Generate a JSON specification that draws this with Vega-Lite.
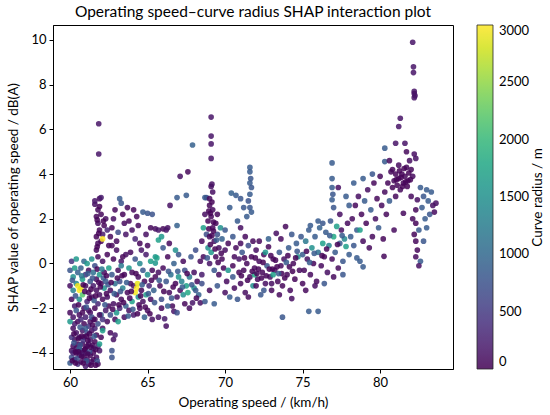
{
"$schema": "https://vega.github.io/schema/vega-lite/v6.json",
"width": 400, "height": 344,
"autosize": {"type": "none"},
"padding": {"left": 53, "top": 25, "right": 97, "bottom": 46},
"title": {"text": "Operating speed–curve radius SHAP interaction plot", "fontSize": 15.5, "font": "Lato", "fontWeight": "normal", "color": "black", "anchor": "middle", "offset": 5},
"data": {"values": [
{"speed":60.0,"shap":-4.45,"radius":850},{"speed":60.1,"shap":-4.2,"radius":700},{"speed":60.1,"shap":-3.9,"radius":120},{"speed":60.2,"shap":-3.7,"radius":80},{"speed":60.2,"shap":-4.0,"radius":300},{"speed":60.3,"shap":-4.3,"radius":200},{"speed":60.3,"shap":-3.4,"radius":60},{"speed":60.4,"shap":-3.1,"radius":150},{"speed":60.4,"shap":-3.8,"radius":90},{"speed":60.5,"shap":-4.5,"radius":400},{"speed":60.5,"shap":-3.6,"radius":40},{"speed":60.6,"shap":-4.1,"radius":110},{"speed":60.6,"shap":-3.3,"radius":250},{"speed":60.7,"shap":-3.9,"radius":60},{"speed":60.7,"shap":-4.4,"radius":90},{"speed":60.8,"shap":-3.0,"radius":180},{"speed":60.8,"shap":-3.6,"radius":70},{"speed":60.9,"shap":-4.2,"radius":30},{"speed":60.9,"shap":-3.3,"radius":300},{"speed":61.0,"shap":-4.6,"radius":200},{"speed":61.0,"shap":-3.8,"radius":50},{"speed":61.0,"shap":-4.0,"radius":120},{"speed":61.1,"shap":-3.1,"radius":700},{"speed":61.1,"shap":-4.3,"radius":80},{"speed":61.2,"shap":-3.6,"radius":100},{"speed":61.2,"shap":-2.8,"radius":400},{"speed":61.3,"shap":-4.1,"radius":60},{"speed":61.3,"shap":-3.4,"radius":200},{"speed":61.4,"shap":-4.4,"radius":150},{"speed":61.4,"shap":-3.0,"radius":90},{"speed":61.5,"shap":-3.8,"radius":750},{"speed":61.5,"shap":-4.0,"radius":70},{"speed":61.6,"shap":-3.5,"radius":40},{"speed":61.6,"shap":-2.9,"radius":300},{"speed":61.7,"shap":-4.2,"radius":100},{"speed":61.7,"shap":-3.2,"radius":60},{"speed":61.8,"shap":-3.7,"radius":250},{"speed":61.8,"shap":-4.5,"radius":80},{"speed":60.2,"shap":-2.9,"radius":100},{"speed":60.3,"shap":-2.7,"radius":220},{"speed":60.0,"shap":-2.6,"radius":1600},{"speed":60.5,"shap":-2.6,"radius":80},{"speed":60.7,"shap":-2.5,"radius":350},{"speed":60.9,"shap":-2.7,"radius":60},{"speed":61.0,"shap":-2.9,"radius":850},{"speed":61.3,"shap":-2.6,"radius":110},{"speed":61.5,"shap":-2.5,"radius":40},{"speed":61.8,"shap":-2.7,"radius":700},{"speed":60.1,"shap":-3.3,"radius":450},{"speed":60.4,"shap":-4.0,"radius":60},{"speed":60.6,"shap":-3.8,"radius":900},{"speed":60.8,"shap":-4.0,"radius":150},{"speed":61.1,"shap":-3.7,"radius":40},{"speed":61.2,"shap":-4.5,"radius":300},{"speed":61.5,"shap":-4.3,"radius":60},{"speed":61.9,"shap":-3.9,"radius":150},{"speed":62.0,"shap":-3.3,"radius":60},{"speed":62.1,"shap":-2.9,"radius":100},{"speed":62.7,"shap":-3.9,"radius":750},{"speed":62.7,"shap":-4.2,"radius":750},{"speed":62.8,"shap":-3.4,"radius":120},{"speed":62.6,"shap":-3.1,"radius":80},{"speed":62.9,"shap":-3.2,"radius":200},{"speed":62.1,"shap":-3.0,"radius":1700},{"speed":61.9,"shap":-3.6,"radius":1650},
{"speed":60.15,"shap":-4.35,"radius":20},{"speed":60.25,"shap":-3.55,"radius":800},{"speed":60.35,"shap":-3.95,"radius":30},{"speed":60.45,"shap":-4.25,"radius":700},{"speed":60.55,"shap":-3.35,"radius":20},{"speed":60.65,"shap":-3.65,"radius":750},{"speed":60.75,"shap":-4.15,"radius":40},{"speed":60.85,"shap":-3.45,"radius":450},{"speed":60.95,"shap":-3.85,"radius":20},{"speed":61.05,"shap":-4.35,"radius":800},{"speed":61.15,"shap":-3.45,"radius":30},{"speed":61.25,"shap":-3.95,"radius":700},{"speed":61.35,"shap":-4.55,"radius":20},{"speed":61.45,"shap":-3.65,"radius":60},{"speed":61.55,"shap":-3.25,"radius":850},{"speed":61.65,"shap":-3.85,"radius":20},{"speed":61.75,"shap":-4.35,"radius":700},{"speed":60.25,"shap":-3.15,"radius":30},{"speed":60.65,"shap":-2.85,"radius":800},{"speed":61.05,"shap":-3.25,"radius":20},{"speed":61.45,"shap":-2.75,"radius":30},{"speed":60.35,"shap":-4.45,"radius":20},{"speed":60.55,"shap":-3.95,"radius":30},{"speed":60.85,"shap":-4.45,"radius":20},{"speed":61.15,"shap":-4.05,"radius":40},{"speed":61.35,"shap":-3.75,"radius":20},{"speed":61.65,"shap":-4.55,"radius":30},{"speed":60.75,"shap":-3.25,"radius":20},{"speed":61.25,"shap":-3.15,"radius":20},
{"speed":60.0,"shap":-0.3,"radius":800},{"speed":60.1,"shap":0.1,"radius":450},{"speed":60.0,"shap":-1.0,"radius":100},{"speed":60.1,"shap":-1.6,"radius":50},{"speed":60.2,"shap":-0.6,"radius":1500},{"speed":60.2,"shap":-1.2,"radius":1300},{"speed":60.3,"shap":-0.2,"radius":1700},{"speed":60.3,"shap":-1.9,"radius":200},{"speed":60.4,"shap":0.2,"radius":1600},{"speed":60.4,"shap":-0.9,"radius":1400},{"speed":60.5,"shap":-1.0,"radius":2950},{"speed":60.5,"shap":-0.4,"radius":900},{"speed":60.6,"shap":-1.2,"radius":3000},{"speed":60.6,"shap":-1.6,"radius":1500},{"speed":60.7,"shap":-1.1,"radius":2900},{"speed":60.7,"shap":-0.2,"radius":900},{"speed":60.8,"shap":-0.7,"radius":1700},{"speed":60.8,"shap":-1.4,"radius":2200},{"speed":60.9,"shap":0.1,"radius":1000},{"speed":60.9,"shap":-2.0,"radius":100},{"speed":61.0,"shap":-0.5,"radius":400},{"speed":61.0,"shap":-1.0,"radius":60},{"speed":61.1,"shap":-1.7,"radius":300},{"speed":61.1,"shap":0.0,"radius":1600},{"speed":61.2,"shap":-0.3,"radius":80},{"speed":61.2,"shap":-1.3,"radius":50},{"speed":61.3,"shap":-2.2,"radius":150},{"speed":61.3,"shap":-0.8,"radius":800},{"speed":61.4,"shap":0.2,"radius":1500},{"speed":61.4,"shap":-1.5,"radius":70},{"speed":61.5,"shap":-1.0,"radius":200},{"speed":61.5,"shap":-0.4,"radius":1100},{"speed":61.6,"shap":-2.0,"radius":40},{"speed":61.6,"shap":-0.1,"radius":700},{"speed":61.7,"shap":-1.2,"radius":100},{"speed":61.7,"shap":-0.7,"radius":80},{"speed":61.8,"shap":-1.8,"radius":300},{"speed":61.8,"shap":0.3,"radius":60},{"speed":61.9,"shap":-0.5,"radius":1600},{"speed":61.9,"shap":-1.4,"radius":100},{"speed":62.0,"shap":-2.3,"radius":900},{"speed":62.0,"shap":-0.9,"radius":40},{"speed":62.1,"shap":0.1,"radius":120},{"speed":62.1,"shap":-1.6,"radius":60},{"speed":62.2,"shap":-1.1,"radius":1500},{"speed":62.2,"shap":-0.4,"radius":80},{"speed":62.3,"shap":-2.1,"radius":200},{"speed":62.3,"shap":-0.8,"radius":800},{"speed":62.4,"shap":0.4,"radius":50},{"speed":62.4,"shap":-1.5,"radius":100},{"speed":62.5,"shap":-1.9,"radius":60},{"speed":62.5,"shap":-0.2,"radius":1700},{"speed":60.0,"shap":-2.2,"radius":80},{"speed":60.2,"shap":-2.4,"radius":150},{"speed":60.4,"shap":-2.1,"radius":800},{"speed":60.6,"shap":-2.3,"radius":90},{"speed":60.8,"shap":-2.2,"radius":50},{"speed":61.0,"shap":-2.4,"radius":250},{"speed":61.2,"shap":-2.1,"radius":100},{"speed":61.4,"shap":-2.4,"radius":700},{"speed":61.6,"shap":-2.5,"radius":60},{"speed":61.9,"shap":-2.3,"radius":100},{"speed":62.1,"shap":-2.5,"radius":450},{"speed":62.4,"shap":-2.6,"radius":80},
{"speed":60.15,"shap":-0.75,"radius":800},{"speed":60.35,"shap":-1.45,"radius":750},{"speed":60.55,"shap":-1.85,"radius":20},{"speed":60.75,"shap":-0.55,"radius":1200},{"speed":60.95,"shap":-1.25,"radius":30},{"speed":61.15,"shap":-0.45,"radius":850},{"speed":61.35,"shap":-1.15,"radius":20},{"speed":61.55,"shap":-1.65,"radius":800},{"speed":61.75,"shap":-0.25,"radius":30},{"speed":61.95,"shap":-1.05,"radius":20},{"speed":62.15,"shap":-0.65,"radius":850},{"speed":62.35,"shap":-1.35,"radius":20},{"speed":62.45,"shap":-0.95,"radius":750},{"speed":61.05,"shap":-1.95,"radius":800},{"speed":61.65,"shap":-1.45,"radius":20},{"speed":62.25,"shap":-1.85,"radius":800},{"speed":60.85,"shap":-0.95,"radius":20},{"speed":61.45,"shap":-0.65,"radius":800},{"speed":62.05,"shap":-0.25,"radius":1200},{"speed":61.25,"shap":-1.55,"radius":20},{"speed":61.85,"shap":-0.85,"radius":30},{"speed":62.35,"shap":-0.55,"radius":20},
{"speed":61.7,"shap":0.6,"radius":50},{"speed":61.8,"shap":0.9,"radius":80},{"speed":61.7,"shap":1.2,"radius":30},{"speed":61.9,"shap":1.5,"radius":60},{"speed":61.8,"shap":1.8,"radius":100},{"speed":61.7,"shap":2.1,"radius":40},{"speed":61.8,"shap":2.4,"radius":70},{"speed":61.6,"shap":2.65,"radius":120},{"speed":61.9,"shap":2.9,"radius":80},{"speed":62.0,"shap":1.0,"radius":40},{"speed":62.1,"shap":1.3,"radius":200},{"speed":62.2,"shap":1.7,"radius":50},{"speed":62.3,"shap":2.0,"radius":100},{"speed":62.0,"shap":2.2,"radius":60},{"speed":62.4,"shap":1.5,"radius":300},{"speed":62.5,"shap":0.8,"radius":50},{"speed":62.1,"shap":1.1,"radius":3000},{"speed":61.85,"shap":6.25,"radius":150},{"speed":61.85,"shap":4.9,"radius":150},{"speed":61.6,"shap":2.8,"radius":150},{"speed":62.0,"shap":2.95,"radius":200},{"speed":61.75,"shap":0.75,"radius":20},{"speed":61.85,"shap":1.35,"radius":20},{"speed":61.75,"shap":1.95,"radius":30},{"speed":61.9,"shap":2.55,"radius":20},{"speed":62.15,"shap":1.9,"radius":20},
{"speed":62.6,"shap":-1.2,"radius":80},{"speed":62.7,"shap":-0.5,"radius":800},{"speed":62.8,"shap":-1.8,"radius":100},{"speed":62.8,"shap":0.2,"radius":40},{"speed":62.9,"shap":-0.9,"radius":1100},{"speed":63.0,"shap":-2.2,"radius":1600},{"speed":63.0,"shap":-1.4,"radius":50},{"speed":63.1,"shap":-0.3,"radius":70},{"speed":63.2,"shap":-2.0,"radius":300},{"speed":63.2,"shap":-0.8,"radius":700},{"speed":63.3,"shap":0.1,"radius":150},{"speed":63.3,"shap":-1.6,"radius":60},{"speed":63.4,"shap":-1.1,"radius":1300},{"speed":63.5,"shap":-2.4,"radius":90},{"speed":63.5,"shap":-0.5,"radius":40},{"speed":63.6,"shap":-1.9,"radius":900},{"speed":63.6,"shap":0.4,"radius":100},{"speed":63.7,"shap":-1.3,"radius":50},{"speed":63.8,"shap":-0.2,"radius":1600},{"speed":63.8,"shap":-2.1,"radius":100},{"speed":63.9,"shap":-0.9,"radius":80},{"speed":64.0,"shap":-1.7,"radius":1700},{"speed":64.0,"shap":-0.4,"radius":60},{"speed":64.1,"shap":-2.3,"radius":200},{"speed":64.1,"shap":-1.0,"radius":100},{"speed":64.2,"shap":0.2,"radius":750},{"speed":64.2,"shap":-1.3,"radius":2950},{"speed":64.3,"shap":-1.1,"radius":3000},{"speed":64.35,"shap":-0.9,"radius":2900},{"speed":64.4,"shap":-1.5,"radius":1500},{"speed":64.4,"shap":-0.6,"radius":80},{"speed":64.5,"shap":-2.0,"radius":60},{"speed":64.5,"shap":0.0,"radius":1400},{"speed":64.6,"shap":-1.2,"radius":40},{"speed":64.7,"shap":-0.3,"radius":800},{"speed":64.7,"shap":-1.7,"radius":100},{"speed":64.8,"shap":-2.4,"radius":900},{"speed":64.8,"shap":-0.8,"radius":50},{"speed":64.9,"shap":0.4,"radius":200},{"speed":64.9,"shap":-1.4,"radius":1700},{"speed":65.0,"shap":-0.5,"radius":1500},{"speed":65.0,"shap":-2.1,"radius":80},{"speed":65.1,"shap":-1.0,"radius":300},{"speed":65.2,"shap":0.1,"radius":1700},{"speed":65.2,"shap":-1.6,"radius":100},{"speed":65.3,"shap":-0.3,"radius":60},{"speed":65.3,"shap":-2.5,"radius":120},{"speed":65.4,"shap":-1.2,"radius":900},{"speed":65.5,"shap":-0.6,"radius":50},{"speed":65.5,"shap":0.3,"radius":1600},{"speed":62.6,"shap":-2.3,"radius":700},{"speed":62.9,"shap":-2.5,"radius":80},{"speed":63.1,"shap":-2.6,"radius":1700},{"speed":63.4,"shap":0.3,"radius":50},{"speed":63.9,"shap":0.5,"radius":80},{"speed":64.6,"shap":0.6,"radius":150},{"speed":65.0,"shap":0.8,"radius":60},{"speed":63.3,"shap":-0.1,"radius":1200},{"speed":63.0,"shap":0.6,"radius":90},{"speed":62.7,"shap":0.8,"radius":60},
{"speed":62.65,"shap":-0.85,"radius":20},{"speed":62.85,"shap":-1.35,"radius":850},{"speed":63.05,"shap":-0.65,"radius":20},{"speed":63.25,"shap":-1.25,"radius":800},{"speed":63.45,"shap":-1.75,"radius":20},{"speed":63.65,"shap":-0.85,"radius":850},{"speed":63.85,"shap":-1.55,"radius":30},{"speed":64.05,"shap":-2.05,"radius":800},{"speed":64.25,"shap":-0.45,"radius":20},{"speed":64.45,"shap":-1.85,"radius":30},{"speed":64.65,"shap":-0.95,"radius":850},{"speed":64.85,"shap":-1.95,"radius":20},{"speed":65.05,"shap":-1.35,"radius":800},{"speed":65.25,"shap":-0.75,"radius":20},{"speed":65.45,"shap":-1.75,"radius":750},{"speed":63.15,"shap":-1.85,"radius":20},{"speed":63.75,"shap":-2.35,"radius":850},{"speed":64.35,"shap":-2.25,"radius":20},{"speed":62.75,"shap":-2.05,"radius":30},{"speed":63.35,"shap":-0.55,"radius":20},{"speed":63.95,"shap":-1.25,"radius":20},{"speed":64.55,"shap":-1.45,"radius":20},{"speed":65.15,"shap":-2.25,"radius":30},
{"speed":62.6,"shap":1.2,"radius":60},{"speed":62.7,"shap":1.6,"radius":40},{"speed":62.8,"shap":2.0,"radius":100},{"speed":62.9,"shap":2.4,"radius":60},{"speed":63.0,"shap":1.0,"radius":80},{"speed":63.1,"shap":1.4,"radius":700},{"speed":63.2,"shap":2.9,"radius":850},{"speed":63.3,"shap":2.7,"radius":800},{"speed":63.4,"shap":2.2,"radius":40},{"speed":63.5,"shap":1.8,"radius":80},{"speed":63.6,"shap":1.3,"radius":150},{"speed":63.7,"shap":2.5,"radius":60},{"speed":63.8,"shap":1.9,"radius":50},{"speed":64.0,"shap":1.5,"radius":120},{"speed":64.1,"shap":2.4,"radius":50},{"speed":64.2,"shap":1.1,"radius":300},{"speed":64.3,"shap":2.1,"radius":60},{"speed":64.4,"shap":1.7,"radius":80},{"speed":64.5,"shap":0.9,"radius":40},{"speed":64.7,"shap":2.3,"radius":850},{"speed":65.0,"shap":2.25,"radius":800},{"speed":65.3,"shap":2.2,"radius":750},{"speed":64.9,"shap":1.3,"radius":100},{"speed":65.2,"shap":1.6,"radius":60},{"speed":65.5,"shap":1.55,"radius":90},{"speed":65.7,"shap":1.5,"radius":150},{"speed":66.0,"shap":1.55,"radius":60},{"speed":66.3,"shap":1.6,"radius":100},{"speed":66.9,"shap":1.7,"radius":900},{"speed":65.7,"shap":1.05,"radius":1700},{"speed":65.9,"shap":1.2,"radius":1600},{"speed":66.45,"shap":2.6,"radius":120},{"speed":66.9,"shap":2.95,"radius":850},{"speed":67.5,"shap":3.05,"radius":850},{"speed":66.2,"shap":1.5,"radius":150},
{"speed":65.6,"shap":0.25,"radius":1700},{"speed":65.5,"shap":0.02,"radius":1600},{"speed":65.7,"shap":-0.4,"radius":100},{"speed":65.8,"shap":-1.0,"radius":60},{"speed":65.9,"shap":-1.6,"radius":700},{"speed":66.0,"shap":-0.2,"radius":80},{"speed":66.1,"shap":-2.47,"radius":200},{"speed":65.7,"shap":-2.4,"radius":150},{"speed":66.2,"shap":-2.8,"radius":100},{"speed":66.2,"shap":-0.8,"radius":800},{"speed":66.3,"shap":0.3,"radius":50},{"speed":66.4,"shap":-1.3,"radius":80},{"speed":66.5,"shap":-0.5,"radius":1100},{"speed":66.6,"shap":-1.9,"radius":60},{"speed":66.7,"shap":-2.14,"radius":150},{"speed":66.9,"shap":-2.2,"radius":700},{"speed":66.7,"shap":0.0,"radius":900},{"speed":66.8,"shap":-0.9,"radius":40},{"speed":66.9,"shap":-1.5,"radius":100},{"speed":67.0,"shap":0.4,"radius":800},{"speed":67.0,"shap":-0.6,"radius":1600},{"speed":67.1,"shap":-1.2,"radius":70},{"speed":67.2,"shap":-0.8,"radius":1300},{"speed":67.3,"shap":-1.4,"radius":1500},{"speed":67.3,"shap":0.1,"radius":80},{"speed":67.4,"shap":-0.3,"radius":700},{"speed":67.5,"shap":-1.0,"radius":1700},{"speed":67.6,"shap":-1.3,"radius":1800},{"speed":67.7,"shap":-0.6,"radius":1200},{"speed":67.7,"shap":-2.0,"radius":80},{"speed":67.8,"shap":0.3,"radius":800},{"speed":67.9,"shap":-1.76,"radius":150},{"speed":68.0,"shap":-1.1,"radius":1600},{"speed":68.0,"shap":-0.4,"radius":100},{"speed":68.1,"shap":0.6,"radius":700},{"speed":68.2,"shap":-0.8,"radius":60},{"speed":68.3,"shap":-1.4,"radius":900},{"speed":68.4,"shap":-1.76,"radius":100},{"speed":68.4,"shap":0.1,"radius":80},{"speed":68.5,"shap":-0.5,"radius":200},{"speed":66.0,"shap":0.7,"radius":800},{"speed":66.4,"shap":0.9,"radius":80},{"speed":66.8,"shap":0.6,"radius":1500},{"speed":65.9,"shap":-2.0,"radius":60},{"speed":66.3,"shap":-1.9,"radius":900},{"speed":67.4,"shap":-1.8,"radius":50},
{"speed":65.75,"shap":-0.75,"radius":850},{"speed":66.05,"shap":-1.25,"radius":20},{"speed":66.35,"shap":-0.35,"radius":800},{"speed":66.65,"shap":-1.05,"radius":20},{"speed":66.95,"shap":-0.35,"radius":850},{"speed":67.25,"shap":-1.05,"radius":850},{"speed":67.55,"shap":-0.45,"radius":20},{"speed":67.85,"shap":-0.95,"radius":800},{"speed":68.15,"shap":-1.55,"radius":20},{"speed":66.55,"shap":-1.55,"radius":800},
{"speed":68.5,"shap":1.0,"radius":80},{"speed":68.6,"shap":1.6,"radius":1700},{"speed":68.7,"shap":2.95,"radius":850},{"speed":68.8,"shap":2.95,"radius":800},{"speed":68.6,"shap":0.3,"radius":60},{"speed":68.7,"shap":2.2,"radius":100},{"speed":68.8,"shap":1.3,"radius":700},{"speed":68.9,"shap":1.9,"radius":40},{"speed":68.9,"shap":0.7,"radius":1500},{"speed":69.0,"shap":2.6,"radius":50},{"speed":69.0,"shap":1.2,"radius":80},{"speed":69.0,"shap":0.0,"radius":150},{"speed":69.1,"shap":3.45,"radius":100},{"speed":69.15,"shap":3.55,"radius":120},{"speed":69.1,"shap":2.1,"radius":60},{"speed":69.1,"shap":0.5,"radius":1600},{"speed":69.2,"shap":1.6,"radius":40},{"speed":69.2,"shap":2.4,"radius":80},{"speed":69.3,"shap":1.0,"radius":100},{"speed":69.3,"shap":-0.3,"radius":800},{"speed":69.4,"shap":1.8,"radius":50},{"speed":69.4,"shap":0.3,"radius":40},{"speed":69.5,"shap":1.3,"radius":700},{"speed":69.5,"shap":2.2,"radius":60},{"speed":69.6,"shap":0.7,"radius":100},{"speed":69.6,"shap":-0.5,"radius":80},{"speed":69.7,"shap":1.6,"radius":1500},{"speed":69.8,"shap":0.2,"radius":60},{"speed":69.8,"shap":1.1,"radius":900},{"speed":69.9,"shap":-0.2,"radius":40},{"speed":70.0,"shap":0.6,"radius":100},{"speed":70.0,"shap":1.5,"radius":800},{"speed":70.1,"shap":-0.8,"radius":80},{"speed":70.2,"shap":0.9,"radius":50},{"speed":70.3,"shap":2.5,"radius":850},{"speed":70.4,"shap":3.15,"radius":900},{"speed":70.7,"shap":3.05,"radius":850},{"speed":71.0,"shap":2.9,"radius":800},{"speed":70.5,"shap":1.2,"radius":800},{"speed":70.6,"shap":0.3,"radius":80},{"speed":70.8,"shap":1.9,"radius":850},{"speed":70.9,"shap":-0.4,"radius":60},{"speed":69.1,"shap":6.55,"radius":150},{"speed":69.1,"shap":5.7,"radius":150},{"speed":69.1,"shap":5.35,"radius":150},{"speed":69.1,"shap":4.7,"radius":150},{"speed":69.2,"shap":3.2,"radius":100},{"speed":69.0,"shap":2.9,"radius":60},{"speed":67.9,"shap":5.3,"radius":900},{"speed":67.6,"shap":4.1,"radius":50},{"speed":67.1,"shap":3.9,"radius":120},{"speed":68.1,"shap":-1.2,"radius":800},{"speed":68.7,"shap":-1.7,"radius":800},{"speed":69.3,"shap":-1.8,"radius":850},{"speed":68.5,"shap":-0.9,"radius":700},{"speed":69.0,"shap":-1.2,"radius":80},{"speed":69.5,"shap":-1.0,"radius":800},{"speed":70.0,"shap":-1.3,"radius":100},{"speed":70.3,"shap":-1.5,"radius":850},{"speed":70.6,"shap":-1.1,"radius":80},{"speed":70.8,"shap":-1.6,"radius":800},
{"speed":68.95,"shap":1.55,"radius":20},{"speed":69.05,"shap":2.25,"radius":20},{"speed":69.15,"shap":1.25,"radius":30},{"speed":69.25,"shap":1.85,"radius":20},{"speed":69.35,"shap":0.65,"radius":20},{"speed":69.05,"shap":0.85,"radius":30},{"speed":69.45,"shap":1.05,"radius":850},{"speed":68.85,"shap":0.25,"radius":800},{"speed":69.55,"shap":0.05,"radius":20},{"speed":69.75,"shap":0.45,"radius":30},{"speed":69.15,"shap":2.75,"radius":20},{"speed":68.95,"shap":2.35,"radius":30},{"speed":69.25,"shap":1.45,"radius":20},
{"speed":71.6,"shap":4.3,"radius":850},{"speed":71.6,"shap":4.1,"radius":850},{"speed":71.65,"shap":3.8,"radius":800},{"speed":71.6,"shap":3.6,"radius":850},{"speed":71.7,"shap":3.4,"radius":800},{"speed":71.6,"shap":3.1,"radius":850},{"speed":71.5,"shap":2.8,"radius":750},{"speed":71.6,"shap":2.5,"radius":800},{"speed":71.7,"shap":2.3,"radius":850},{"speed":71.2,"shap":2.5,"radius":800},{"speed":71.4,"shap":2.1,"radius":850},{"speed":71.0,"shap":1.6,"radius":100},{"speed":71.3,"shap":1.2,"radius":80},{"speed":71.8,"shap":1.0,"radius":60},
{"speed":70.5,"shap":-0.1,"radius":50},{"speed":70.7,"shap":0.7,"radius":60},{"speed":70.9,"shap":0.2,"radius":150},{"speed":71.0,"shap":-0.9,"radius":80},{"speed":71.1,"shap":0.5,"radius":800},{"speed":71.2,"shap":-0.3,"radius":40},{"speed":71.3,"shap":-1.3,"radius":100},{"speed":71.4,"shap":0.0,"radius":60},{"speed":71.5,"shap":0.8,"radius":700},{"speed":71.6,"shap":-0.6,"radius":80},{"speed":71.7,"shap":0.3,"radius":40},{"speed":71.8,"shap":-1.0,"radius":1500},{"speed":71.9,"shap":-0.2,"radius":60},{"speed":72.0,"shap":0.6,"radius":100},{"speed":72.1,"shap":-0.7,"radius":50},{"speed":72.2,"shap":0.1,"radius":80},{"speed":72.3,"shap":-1.4,"radius":800},{"speed":72.4,"shap":-0.4,"radius":40},{"speed":72.5,"shap":0.4,"radius":60},{"speed":72.6,"shap":-0.9,"radius":100},{"speed":72.7,"shap":-0.1,"radius":800},{"speed":72.8,"shap":0.75,"radius":50},{"speed":72.9,"shap":-0.6,"radius":80},{"speed":73.0,"shap":-1.2,"radius":60},{"speed":73.1,"shap":0.2,"radius":40},{"speed":73.2,"shap":-0.3,"radius":150},{"speed":73.3,"shap":1.35,"radius":100},{"speed":73.4,"shap":-0.8,"radius":50},{"speed":73.5,"shap":0.5,"radius":800},{"speed":73.6,"shap":-0.1,"radius":80},{"speed":73.7,"shap":-1.0,"radius":40},{"speed":73.8,"shap":0.2,"radius":100},{"speed":73.9,"shap":1.65,"radius":60},{"speed":74.0,"shap":-0.5,"radius":50},{"speed":74.1,"shap":0.7,"radius":850},{"speed":74.2,"shap":-1.2,"radius":80},{"speed":74.3,"shap":-1.57,"radius":100},{"speed":74.4,"shap":0.0,"radius":60},{"speed":74.5,"shap":-0.7,"radius":40},{"speed":74.6,"shap":0.9,"radius":850},{"speed":74.7,"shap":0.3,"radius":1500},{"speed":74.8,"shap":-0.3,"radius":80},{"speed":74.9,"shap":1.2,"radius":800},{"speed":75.0,"shap":-0.9,"radius":60},{"speed":71.5,"shap":-1.5,"radius":80},{"speed":72.0,"shap":-1.0,"radius":50},{"speed":72.5,"shap":-1.2,"radius":800},{"speed":73.0,"shap":-0.9,"radius":100},{"speed":73.5,"shap":-1.4,"radius":60},{"speed":73.7,"shap":-2.4,"radius":800},{"speed":75.4,"shap":-2.14,"radius":850},{"speed":76.0,"shap":-2.14,"radius":850},{"speed":70.2,"shap":-0.3,"radius":1600},{"speed":70.5,"shap":-0.6,"radius":800},{"speed":71.0,"shap":0.9,"radius":80},{"speed":72.2,"shap":1.0,"radius":60},{"speed":72.8,"shap":1.1,"radius":900},{"speed":73.6,"shap":1.1,"radius":80},{"speed":74.3,"shap":1.3,"radius":800},{"speed":71.9,"shap":-0.5,"radius":1800},{"speed":72.6,"shap":0.5,"radius":1600},{"speed":73.1,"shap":-0.5,"radius":1700},
{"speed":71.25,"shap":0.25,"radius":20},{"speed":71.75,"shap":-0.35,"radius":20},{"speed":72.15,"shap":-0.25,"radius":30},{"speed":72.45,"shap":0.05,"radius":20},{"speed":72.85,"shap":-0.25,"radius":20},{"speed":73.25,"shap":0.15,"radius":30},{"speed":73.65,"shap":-0.45,"radius":20},{"speed":73.95,"shap":0.05,"radius":850},{"speed":74.35,"shap":-0.35,"radius":20},{"speed":74.65,"shap":0.55,"radius":800},{"speed":72.65,"shap":-0.55,"radius":20},{"speed":73.45,"shap":-0.45,"radius":850},{"speed":71.05,"shap":-0.55,"radius":20},{"speed":71.45,"shap":-0.75,"radius":30},{"speed":71.95,"shap":0.25,"radius":20},{"speed":72.35,"shap":-0.65,"radius":20},{"speed":72.95,"shap":0.35,"radius":30},{"speed":73.35,"shap":-0.15,"radius":20},{"speed":73.85,"shap":-0.65,"radius":20},{"speed":74.15,"shap":-0.15,"radius":30},{"speed":74.55,"shap":0.25,"radius":20},{"speed":72.05,"shap":-0.45,"radius":20},{"speed":73.05,"shap":-0.25,"radius":20},{"speed":74.05,"shap":0.35,"radius":20},
{"speed":75.0,"shap":0.4,"radius":850},{"speed":75.1,"shap":-0.3,"radius":60},{"speed":75.2,"shap":1.0,"radius":1200},{"speed":75.3,"shap":0.2,"radius":100},{"speed":75.4,"shap":1.5,"radius":850},{"speed":75.5,"shap":-0.5,"radius":80},{"speed":75.6,"shap":0.7,"radius":1500},{"speed":75.7,"shap":0.0,"radius":40},{"speed":75.8,"shap":1.2,"radius":850},{"speed":75.9,"shap":-0.8,"radius":60},{"speed":76.0,"shap":0.5,"radius":1100},{"speed":76.1,"shap":1.6,"radius":900},{"speed":76.2,"shap":-0.1,"radius":80},{"speed":76.3,"shap":0.9,"radius":1700},{"speed":76.4,"shap":0.3,"radius":60},{"speed":76.5,"shap":1.4,"radius":850},{"speed":76.6,"shap":-0.4,"radius":100},{"speed":76.7,"shap":0.8,"radius":1300},{"speed":76.8,"shap":1.9,"radius":800},{"speed":76.9,"shap":0.2,"radius":80},{"speed":77.0,"shap":1.2,"radius":1800},{"speed":77.1,"shap":0.5,"radius":850},{"speed":77.2,"shap":1.66,"radius":1700},{"speed":77.3,"shap":-0.2,"radius":60},{"speed":77.4,"shap":0.9,"radius":850},{"speed":77.5,"shap":1.5,"radius":100},{"speed":77.6,"shap":0.1,"radius":800},{"speed":77.7,"shap":1.1,"radius":1400},{"speed":77.8,"shap":0.76,"radius":1700},{"speed":77.9,"shap":1.8,"radius":80},{"speed":78.0,"shap":0.4,"radius":850},{"speed":75.5,"shap":1.7,"radius":850},{"speed":76.0,"shap":1.9,"radius":850},{"speed":76.3,"shap":1.8,"radius":800},{"speed":76.9,"shap":4.5,"radius":850},{"speed":76.9,"shap":3.8,"radius":850},{"speed":76.9,"shap":3.4,"radius":850},{"speed":76.95,"shap":3.1,"radius":800},{"speed":76.9,"shap":2.85,"radius":850},{"speed":77.3,"shap":3.4,"radius":100},{"speed":77.0,"shap":2.5,"radius":800},{"speed":77.4,"shap":2.2,"radius":100},{"speed":75.8,"shap":-1.0,"radius":100},{"speed":76.4,"shap":-0.9,"radius":800},{"speed":77.0,"shap":-0.6,"radius":80},{"speed":75.2,"shap":-1.2,"radius":60},{"speed":77.6,"shap":-0.5,"radius":800},
{"speed":75.25,"shap":0.55,"radius":30},{"speed":75.75,"shap":0.45,"radius":850},{"speed":76.25,"shap":0.35,"radius":20},{"speed":76.75,"shap":1.25,"radius":850},{"speed":77.25,"shap":0.85,"radius":30},{"speed":77.55,"shap":1.25,"radius":850},{"speed":76.55,"shap":0.65,"radius":20},{"speed":75.45,"shap":0.05,"radius":850},
{"speed":78.1,"shap":1.2,"radius":850},{"speed":78.2,"shap":2.0,"radius":80},{"speed":78.3,"shap":0.8,"radius":800},{"speed":78.4,"shap":2.6,"radius":60},{"speed":78.5,"shap":1.5,"radius":850},{"speed":78.5,"shap":0.25,"radius":850},{"speed":78.7,"shap":0.1,"radius":850},{"speed":78.9,"shap":-0.15,"radius":850},{"speed":78.6,"shap":3.0,"radius":100},{"speed":78.7,"shap":1.5,"radius":1700},{"speed":78.8,"shap":2.2,"radius":60},{"speed":78.9,"shap":1.0,"radius":80},{"speed":79.0,"shap":2.8,"radius":850},{"speed":79.1,"shap":1.8,"radius":40},{"speed":79.2,"shap":3.3,"radius":100},{"speed":79.3,"shap":0.7,"radius":60},{"speed":79.4,"shap":2.4,"radius":850},{"speed":79.5,"shap":1.2,"radius":80},{"speed":79.6,"shap":3.6,"radius":60},{"speed":79.7,"shap":2.0,"radius":100},{"speed":79.8,"shap":2.9,"radius":50},{"speed":79.9,"shap":1.6,"radius":850},{"speed":80.0,"shap":3.9,"radius":60},{"speed":80.1,"shap":2.6,"radius":80},{"speed":80.2,"shap":1.1,"radius":40},{"speed":80.25,"shap":0.32,"radius":60},{"speed":80.3,"shap":5.16,"radius":850},{"speed":80.3,"shap":4.56,"radius":850},{"speed":80.3,"shap":3.2,"radius":80},{"speed":80.4,"shap":2.2,"radius":60},{"speed":80.5,"shap":3.6,"radius":40},{"speed":80.6,"shap":2.8,"radius":850},{"speed":80.7,"shap":4.1,"radius":60},{"speed":80.8,"shap":3.4,"radius":40},{"speed":80.9,"shap":1.5,"radius":80},{"speed":81.0,"shap":3.0,"radius":60},{"speed":78.3,"shap":3.6,"radius":850},{"speed":78.9,"shap":3.8,"radius":850},{"speed":79.5,"shap":4.0,"radius":800},{"speed":78.0,"shap":2.6,"radius":850},{"speed":77.8,"shap":3.0,"radius":850},
{"speed":80.8,"shap":4.2,"radius":40},{"speed":80.9,"shap":3.7,"radius":60},{"speed":81.0,"shap":4.0,"radius":30},{"speed":81.1,"shap":3.5,"radius":50},{"speed":81.2,"shap":3.8,"radius":40},{"speed":81.3,"shap":3.3,"radius":60},{"speed":81.4,"shap":4.0,"radius":30},{"speed":81.5,"shap":3.6,"radius":40},{"speed":81.6,"shap":3.9,"radius":50},{"speed":81.7,"shap":4.3,"radius":60},{"speed":81.8,"shap":3.7,"radius":40},{"speed":81.9,"shap":4.6,"radius":100},{"speed":82.0,"shap":4.2,"radius":50},{"speed":82.1,"shap":3.9,"radius":80},{"speed":82.2,"shap":4.9,"radius":100},{"speed":81.7,"shap":5.0,"radius":60},{"speed":82.3,"shap":4.7,"radius":120},{"speed":81.0,"shap":5.38,"radius":150},{"speed":81.6,"shap":5.38,"radius":150},{"speed":81.3,"shap":6.5,"radius":150},{"speed":81.2,"shap":6.13,"radius":150},{"speed":82.1,"shap":9.9,"radius":150},{"speed":82.15,"shap":8.8,"radius":150},{"speed":82.15,"shap":8.54,"radius":150},{"speed":82.2,"shap":7.7,"radius":150},{"speed":82.2,"shap":7.6,"radius":120},{"speed":82.25,"shap":7.5,"radius":150},{"speed":82.2,"shap":7.42,"radius":150},{"speed":81.5,"shap":2.25,"radius":80},{"speed":82.4,"shap":2.85,"radius":100},{"speed":81.2,"shap":4.4,"radius":80},{"speed":80.6,"shap":4.6,"radius":60},
{"speed":81.05,"shap":3.75,"radius":20},{"speed":81.25,"shap":4.15,"radius":20},{"speed":81.45,"shap":3.45,"radius":20},{"speed":81.65,"shap":3.65,"radius":20},{"speed":81.85,"shap":4.05,"radius":20},{"speed":81.35,"shap":3.85,"radius":20},{"speed":81.55,"shap":4.25,"radius":20},{"speed":81.75,"shap":3.45,"radius":20},{"speed":81.95,"shap":3.75,"radius":20},
{"speed":82.0,"shap":3.0,"radius":80},{"speed":82.1,"shap":2.0,"radius":60},{"speed":82.2,"shap":1.3,"radius":40},{"speed":82.3,"shap":2.4,"radius":50},{"speed":82.3,"shap":0.3,"radius":80},{"speed":82.3,"shap":1.8,"radius":40},{"speed":82.3,"shap":1.0,"radius":60},{"speed":82.4,"shap":0.6,"radius":50},{"speed":82.6,"shap":0.1,"radius":850},{"speed":82.5,"shap":1.5,"radius":850},{"speed":82.6,"shap":3.4,"radius":850},{"speed":82.7,"shap":2.5,"radius":850},{"speed":82.8,"shap":3.0,"radius":800},{"speed":82.9,"shap":2.0,"radius":850},{"speed":83.0,"shap":1.6,"radius":850},{"speed":83.1,"shap":2.8,"radius":850},{"speed":83.2,"shap":2.2,"radius":800},{"speed":83.3,"shap":3.2,"radius":850},{"speed":83.4,"shap":2.6,"radius":100},{"speed":83.5,"shap":2.3,"radius":80},{"speed":83.0,"shap":3.3,"radius":850},{"speed":82.8,"shap":1.0,"radius":800},{"speed":82.5,"shap":-0.1,"radius":100},{"speed":83.6,"shap":2.7,"radius":100}
]},
"layer": [
{
"mark": {"type": "point", "filled": true, "size": 32, "opacity": 0.85, "clip": true},
"encoding": {
  "x": {"field": "speed", "type": "quantitative", "title": "Operating speed / (km/h)",
        "scale": {"domain": [58.9, 84.7], "nice": false, "zero": false},
        "axis": {"values": [60, 65, 70, 75, 80], "titlePadding": 6}},
  "y": {"field": "shap", "type": "quantitative", "title": "SHAP value of operating speed / dB(A)",
        "scale": {"domain": [-4.72, 10.67], "nice": false, "zero": false},
        "axis": {"values": [-4, -2, 0, 2, 4, 6, 8, 10], "titlePadding": 10}},
  "color": {"field": "radius", "type": "quantitative",
            "scale": {"scheme": "viridis", "domain": [0, 3000]},
            "legend": {"type": "gradient", "title": null, "orient": "none", "legendX": 424, "legendY": 0,
                       "direction": "vertical", "gradientLength": 344, "gradientThickness": 16,
                       "values": [0, 500, 1000, 1500, 2000, 2500, 3000], "format": "d",
                       "labelFontSize": 13, "labelFont": "Lato", "labelColor": "black", "labelOffset": 6,
                       "gradientStrokeColor": "black", "gradientStrokeWidth": 0.8}}
}
},
{
"mark": {"type": "point", "filled": true, "size": 1, "opacity": 0},
"encoding": {
  "x": {"field": "speed", "type": "quantitative", "scale": {"domain": [58.9, 84.7], "nice": false, "zero": false}},
  "y": {"field": "shap", "type": "quantitative",
        "scale": {"domain": [-4.72, 10.67], "nice": false, "zero": false},
        "axis": {"orient": "right", "labels": false, "ticks": false, "domain": false, "grid": false,
                 "title": "Curve radius / m", "titleAngle": -90, "titleX": 84, "titleY": 172,
                 "titleAlign": "center", "titleBaseline": "middle", "titleFontSize": 13.5}}
}
}
],
"resolve": {"scale": {"y": "independent"}, "axis": {"y": "independent"}},
"config": {
  "view": {"stroke": "black", "strokeWidth": 1},
  "axis": {"grid": false, "domainColor": "black", "tickColor": "black", "tickSize": 4, "labelFontSize": 13, "titleFontSize": 13.5,
           "labelFont": "Lato", "titleFont": "Lato", "labelColor": "black", "titleColor": "black", "titleFontWeight": "normal", "labelPadding": 3}
}
}
